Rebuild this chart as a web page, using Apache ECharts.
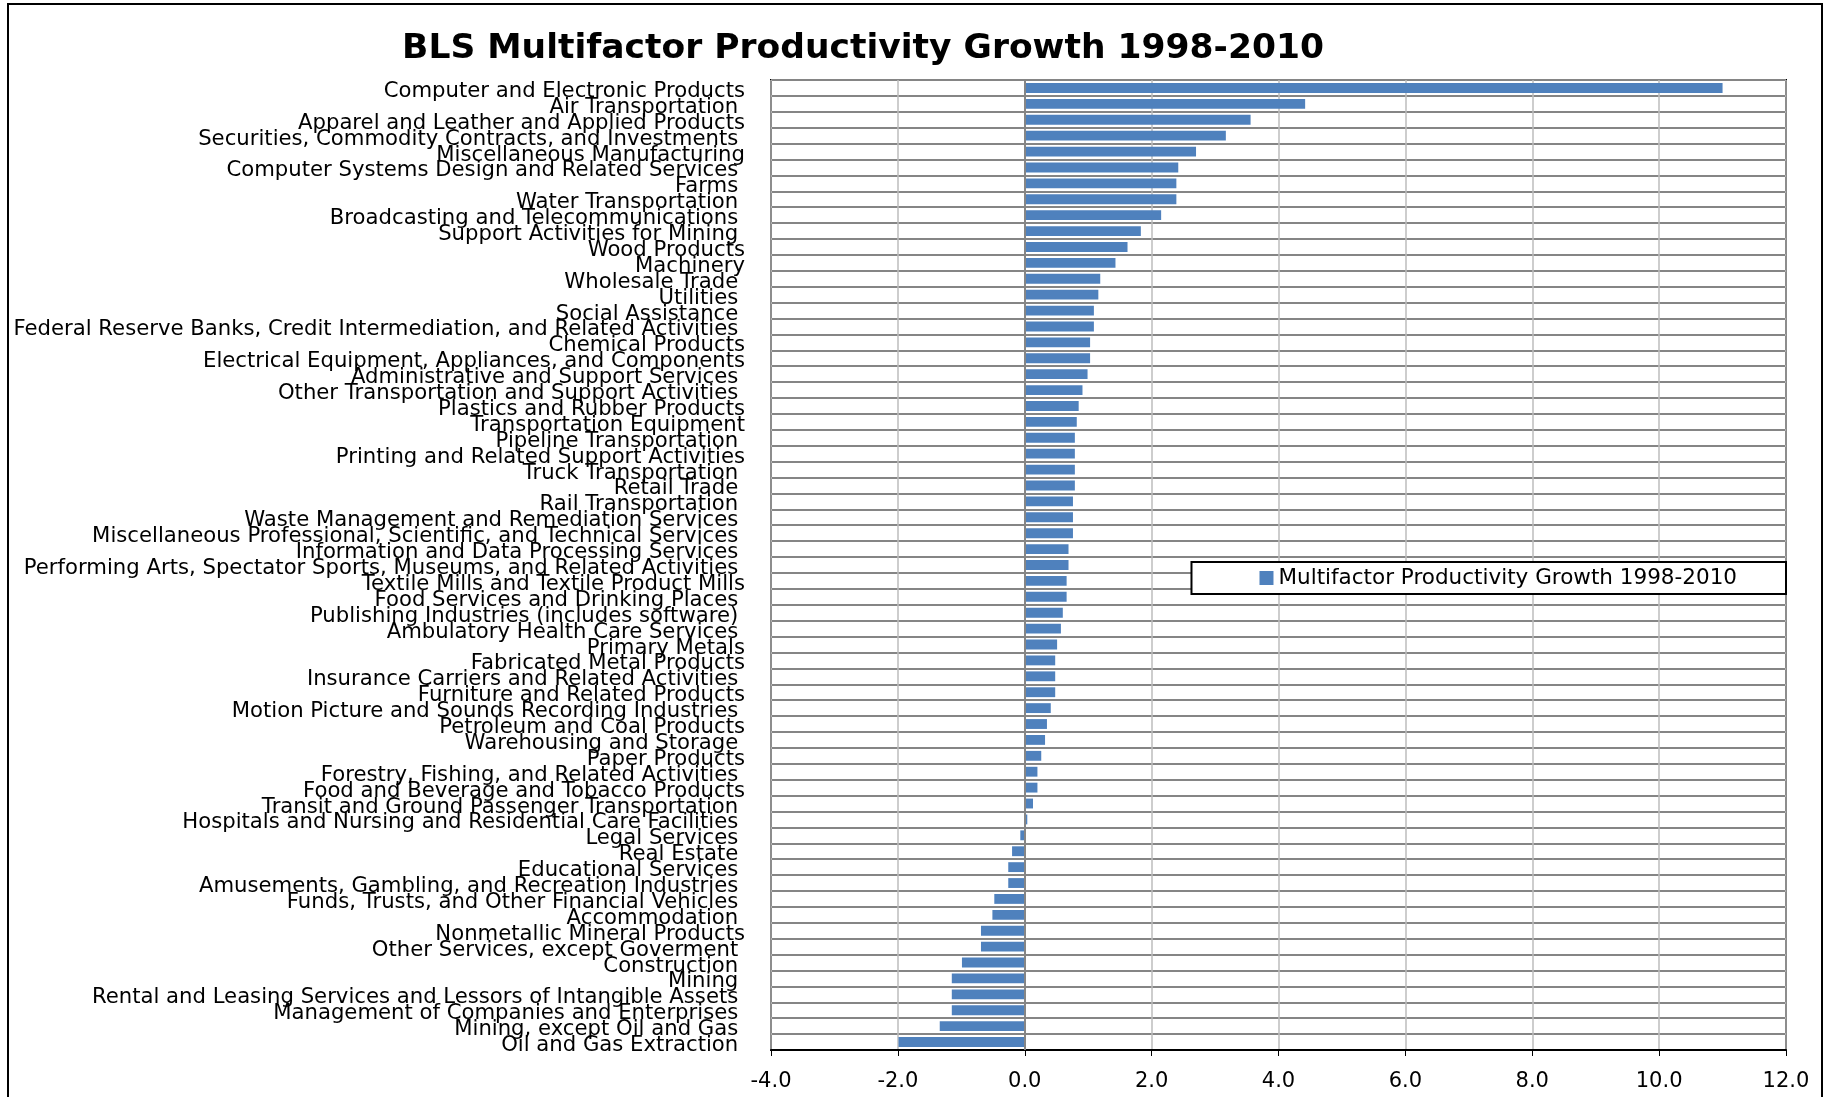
<!DOCTYPE html>
<html>
<head>
<meta charset="utf-8">
<title>BLS Multifactor Productivity Growth 1998-2010</title>
<script src="https://cdn.jsdelivr.net/npm/echarts@6/dist/echarts.min.js"></script>
<style>
  html, body { margin: 0; padding: 0; background: #fff; }
  #chart { width: 1834px; height: 1097px; }
</style>
</head>
<body>
<div id="chart"></div>
<script>
// Industries, top to bottom (trailing spaces are in the original labels)
const industries = [
  "Computer and Electronic Products",
  "Air Transportation ",
  "Apparel and Leather and Applied Products",
  "Securities, Commodity Contracts, and Investments ",
  "Miscellaneous Manufacturing",
  "Computer Systems Design and Related Services ",
  "Farms ",
  "Water Transportation ",
  "Broadcasting and Telecommunications ",
  "Support Activities for Mining ",
  "Wood Products",
  "Machinery",
  "Wholesale Trade ",
  "Utilities ",
  "Social Assistance ",
  "Federal Reserve Banks, Credit Intermediation, and Related Activities ",
  "Chemical Products",
  "Electrical Equipment, Appliances, and Components",
  "Administrative and Support Services ",
  "Other Transportation and Support Activities ",
  "Plastics and Rubber Products",
  "Transportation Equipment",
  "Pipeline Transportation ",
  "Printing and Related Support Activities",
  "Truck Transportation ",
  "Retail Trade ",
  "Rail Transportation ",
  "Waste Management and Remediation Services ",
  "Miscellaneous Professional, Scientific, and Technical Services ",
  "Information and Data Processing Services ",
  "Performing Arts, Spectator Sports, Museums, and Related Activities ",
  "Textile Mills and Textile Product Mills",
  "Food Services and Drinking Places ",
  "Publishing Industries (includes software) ",
  "Ambulatory Health Care Services ",
  "Primary Metals",
  "Fabricated Metal Products",
  "Insurance Carriers and Related Activities ",
  "Furniture and Related Products",
  "Motion Picture and Sounds Recording Industries ",
  "Petroleum and Coal Products",
  "Warehousing and Storage ",
  "Paper Products",
  "Forestry, Fishing, and Related Activities ",
  "Food and Beverage and Tobacco Products",
  "Transit and Ground Passenger Transportation ",
  "Hospitals and Nursing and Residential Care Facilities ",
  "Legal Services ",
  "Real Estate ",
  "Educational Services ",
  "Amusements, Gambling, and Recreation Industries ",
  "Funds, Trusts, and Other Financial Vehicles ",
  "Accommodation ",
  "Nonmetallic Mineral Products",
  "Other Services, except Goverment ",
  "Construction ",
  "Mining ",
  "Rental and Leasing Services and Lessors of Intangible Assets ",
  "Management of Companies and Enterprises ",
  "Mining, except Oil and Gas ",
  "Oil and Gas Extraction "
]

// Average annual multifactor productivity growth, percent
const mfpGrowth = [
  11.0, 4.42, 3.56, 3.17, 2.70, 2.42, 2.39, 2.39, 2.15, 1.83,
  1.62, 1.43, 1.19, 1.16, 1.09, 1.09, 1.03, 1.03, 0.99, 0.91,
  0.85, 0.82, 0.79, 0.79, 0.79, 0.79, 0.76, 0.76, 0.76, 0.69,
  0.69, 0.66, 0.66, 0.60, 0.57, 0.51, 0.48, 0.48, 0.48, 0.41,
  0.35, 0.32, 0.26, 0.20, 0.20, 0.13, 0.04, -0.07, -0.20, -0.26,
  -0.26, -0.48, -0.51, -0.69, -0.69, -0.99, -1.15, -1.15, -1.15, -1.34,
  -1.99
]

const seriesName = "Multifactor Productivity Growth 1998-2010"
const titleText = "BLS Multifactor Productivity Growth 1998-2010"
const FONT = "'DejaVu Sans', 'Liberation Sans', sans-serif"

const chart = echarts.init(document.getElementById("chart"), null, { renderer: "canvas" })

chart.setOption({
  backgroundColor: "#fff",
  animation: false,
  title: {
    text: titleText,
    left: 858,
    textAlign: "center",
    top: 27,
    textStyle: { fontFamily: FONT, fontSize: 34.5, fontWeight: "bold", color: "#000" },
  },
  graphic: [{
    type: "rect",
    shape: { x: 8, y: 4, width: 1814, height: 1200 },
    style: { fill: "none", stroke: "#000", lineWidth: 2 },
    silent: true,
  }],
  legend: {
    data: [seriesName],
    right: 48,
    top: 562,
    icon: "rect",
    itemWidth: 14,
    itemHeight: 14,
    itemGap: 6,
    padding: [5, 49, 5, 68],
    backgroundColor: "#fff",
    borderColor: "#000",
    borderWidth: 2,
    textStyle: { fontFamily: FONT, fontSize: 21.5, color: "#000" },
  },
  grid: {
    left: 771,
    right: 48,
    top: 80,
    bottom: 47,
    show: true,
    borderColor: "#000",
    borderWidth: 2,
    backgroundColor: "transparent",
  },
  xAxis: {
    type: "value",
    min: -4,
    max: 12,
    interval: 2,
    axisLine: { show: true, lineStyle: { color: "#000", width: 2 } },
    axisTick: { show: true, length: 6, lineStyle: { color: "#000" } },
    axisLabel: {
      margin: 21,
      fontFamily: FONT,
      fontSize: 21,
      color: "#000",
      formatter: (v) => v.toFixed(1),
    },
    splitLine: { show: true, lineStyle: { color: "#bdbdbd", width: 1.5 } },
  },
  yAxis: {
    type: "category",
    data: industries,
    inverse: true,
    axisLine: { show: false, onZero: false },
    axisTick: { show: false },
    axisLabel: {
      interval: 0,
      margin: 26,
      fontFamily: FONT,
      fontSize: 21.2,
      color: "#000",
      verticalAlign: "top",
      lineHeight: 7,
    },
    splitLine: { show: true, interval: 0, lineStyle: { color: "#858585", width: 2 } },
  },
  series: [{
    name: seriesName,
    type: "bar",
    data: mfpGrowth,
    barCategoryGap: "38%",
    itemStyle: { color: "#4f81bd" },
    markLine: {
      silent: true,
      symbol: "none",
      label: { show: false },
      lineStyle: { color: "#868686", width: 2, type: "solid" },
      data: [{ xAxis: 0 }],
    },
  }],
})
</script>
</body>
</html>
